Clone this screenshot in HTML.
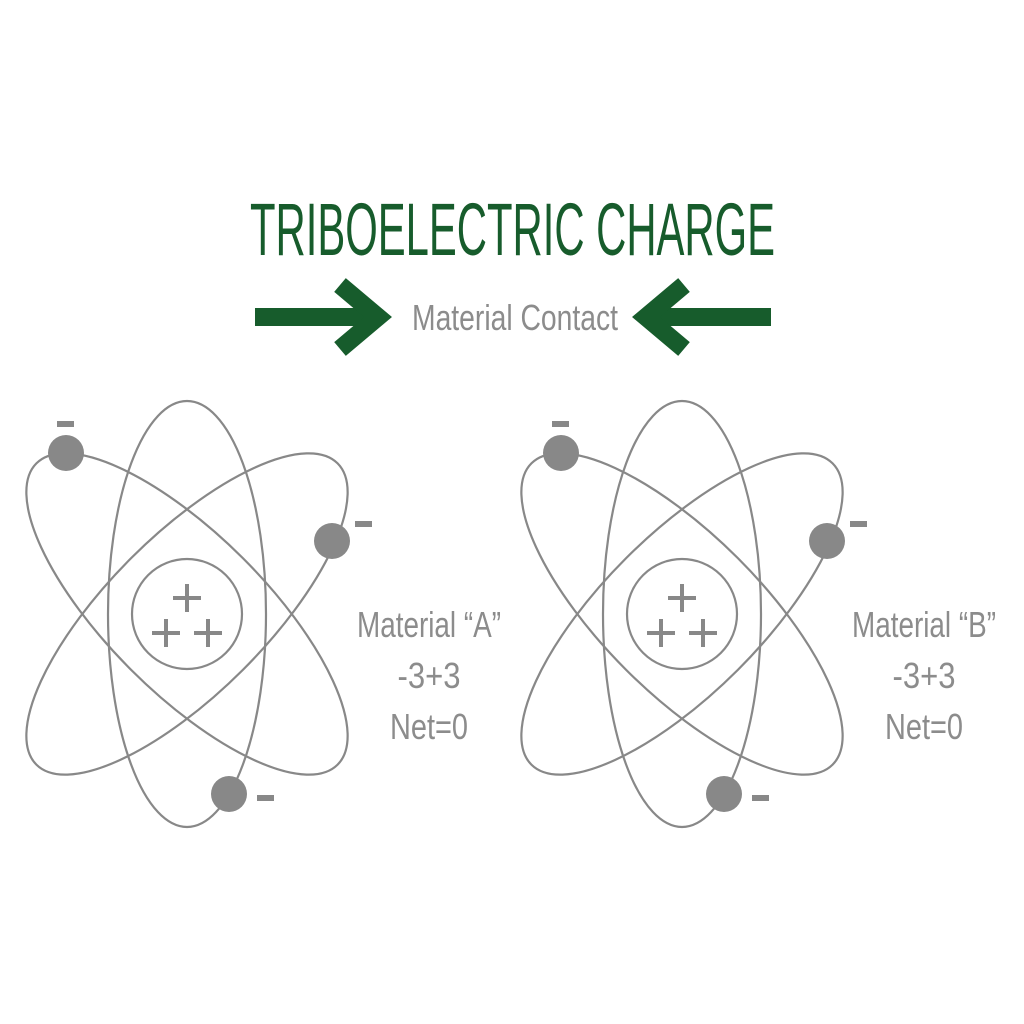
<!DOCTYPE html>
<html><head><style>html,body{margin:0;padding:0;background:#fff;}svg{display:block}</style></head>
<body>
<svg width="1024" height="1024" viewBox="0 0 1024 1024" xmlns="http://www.w3.org/2000/svg">
<rect width="1024" height="1024" fill="#fff"/>
<text x="250" y="255" font-family="Liberation Sans Narrow, Liberation Sans, sans-serif" font-size="74" fill="#175c2c" textLength="525" lengthAdjust="spacingAndGlyphs">TRIBOELECTRIC CHARGE</text>
<g stroke="#175c2c" stroke-width="18" fill="none" stroke-linejoin="miter">
<line x1="255" y1="317" x2="372" y2="317"/>
<polyline points="340,285 378,317 340,349"/>
<line x1="652" y1="317" x2="771" y2="317"/>
<polyline points="684,285 646,317 684,349"/>
</g>
<text x="515" y="330" text-anchor="middle" font-family="Liberation Sans Narrow, Liberation Sans, sans-serif" font-size="36" fill="#8c8c8c" textLength="206" lengthAdjust="spacingAndGlyphs">Material Contact</text>
<g id="atom" fill="none" stroke="#888" stroke-width="2.2">
<ellipse cx="187" cy="614" rx="79" ry="213"/>
<ellipse cx="187" cy="614" rx="79" ry="213" transform="rotate(-45 187 614)"/>
<ellipse cx="187" cy="614" rx="79" ry="213" transform="rotate(45 187 614)"/>
<circle cx="187" cy="614" r="55"/>
<g stroke-width="4">
<line x1="173" y1="598" x2="201" y2="598"/><line x1="187" y1="584" x2="187" y2="612"/>
<line x1="152" y1="633" x2="180" y2="633"/><line x1="166" y1="619" x2="166" y2="647"/>
<line x1="194" y1="633" x2="222" y2="633"/><line x1="208" y1="619" x2="208" y2="647"/>
</g>
<g fill="#888" stroke="none">
<circle cx="66" cy="453" r="18"/><rect x="57" y="421" width="17" height="6"/>
<circle cx="332" cy="541" r="18"/><rect x="355" y="521" width="17" height="6"/>
<circle cx="229" cy="794" r="18"/><rect x="257" y="795" width="17" height="6"/>
</g>
</g>
<use href="#atom" transform="translate(495,0)"/>
<g font-family="Liberation Sans Narrow, Liberation Sans, sans-serif" font-size="36" fill="#8c8c8c" text-anchor="middle">
<text x="429" y="637" textLength="144" lengthAdjust="spacingAndGlyphs">Material “A”</text>
<text x="429" y="688" textLength="63" lengthAdjust="spacingAndGlyphs">-3+3</text>
<text x="429" y="739" textLength="78" lengthAdjust="spacingAndGlyphs">Net=0</text>
<text x="924" y="637" textLength="144" lengthAdjust="spacingAndGlyphs">Material “B”</text>
<text x="924" y="688" textLength="63" lengthAdjust="spacingAndGlyphs">-3+3</text>
<text x="924" y="739" textLength="78" lengthAdjust="spacingAndGlyphs">Net=0</text>
</g>
</svg>
</body></html>
